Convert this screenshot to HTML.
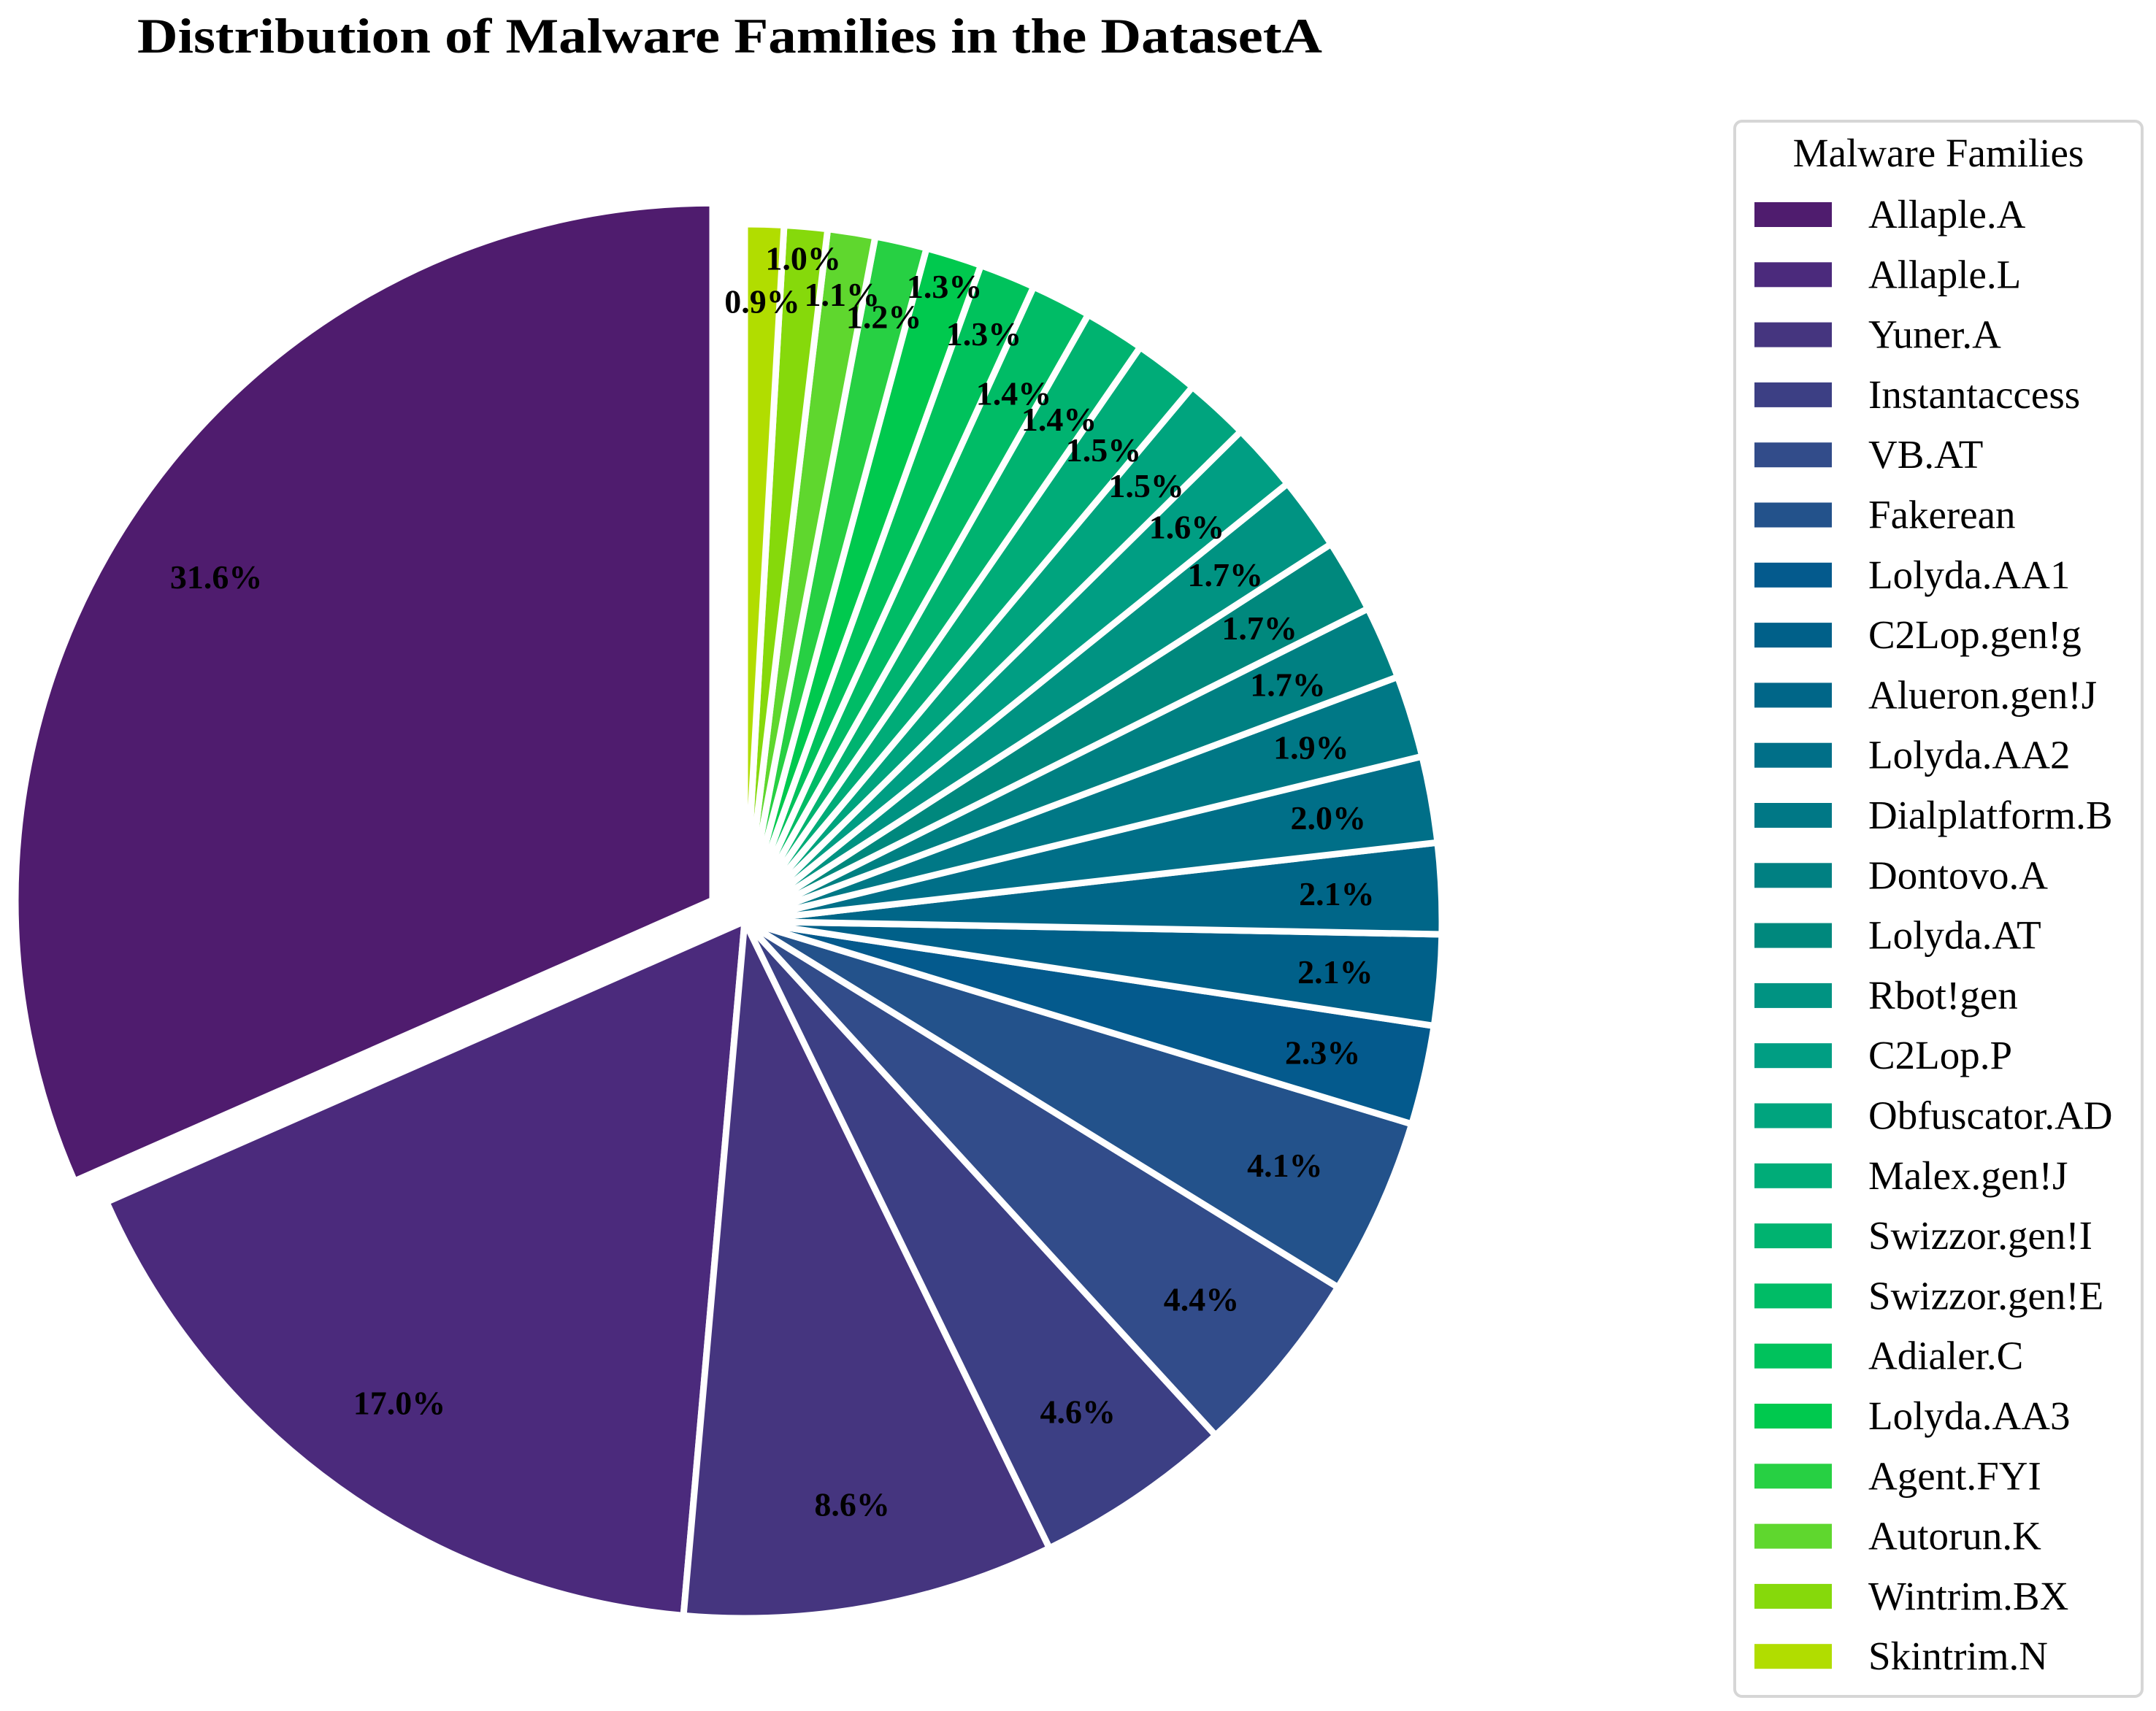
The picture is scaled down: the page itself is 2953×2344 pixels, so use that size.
<!DOCTYPE html>
<html><head><meta charset="utf-8"><style>
html,body{margin:0;padding:0;background:#fff;}
svg{display:block;font-family:"Liberation Serif",serif;}
</style></head><body>
<svg id="chart" width="2953" height="2344" viewBox="0 0 2953 2344" xmlns="http://www.w3.org/2000/svg">
<text x="188" y="72" font-size="68" font-weight="bold" font-family="Liberation Serif, serif" textLength="1623" lengthAdjust="spacingAndGlyphs">Distribution of Malware Families in the DatasetA</text>
<g id="slices"></g>
<g id="labels"></g>
<g id="legend">
<rect x="2376" y="166" width="558" height="2158" rx="10" fill="#fff" stroke="#d6d6d6" stroke-width="4"/>
<text x="2655" y="228" font-size="55" font-family="Liberation Serif, serif" text-anchor="middle">Malware Families</text>
</g>
</svg>
<script>
const categories = ["Allaple.A","Allaple.L","Yuner.A","Instantaccess","VB.AT","Fakerean","Lolyda.AA1","C2Lop.gen!g","Alueron.gen!J","Lolyda.AA2","Dialplatform.B","Dontovo.A","Lolyda.AT","Rbot!gen","C2Lop.P","Obfuscator.AD","Malex.gen!J","Swizzor.gen!I","Swizzor.gen!E","Adialer.C","Lolyda.AA3","Agent.FYI","Autorun.K","Wintrim.BX","Skintrim.N"];
const values = [31.6,17.0,8.6,4.6,4.4,4.1,2.3,2.1,2.1,2.0,1.9,1.7,1.7,1.7,1.6,1.5,1.5,1.4,1.4,1.3,1.3,1.2,1.1,1.0,0.9];
const colors = ["#4f1c6e","#4b2a7c","#45357f","#3c3f84","#324c8a","#23528b","#045a8d","#006089","#006688","#006f88","#007886","#008082","#00887d","#009382","#009e83","#00a47e","#00ac78","#00b370","#00bc66","#00c25c","#00c94e","#27d043","#5fd72e","#86d90b","#b1dd00"];

const NS = "http://www.w3.org/2000/svg";
const cx = 1020, cy = 1262, R = 955, explodeIdx = 0, explodeAmt = 0.055;
const total = values.reduce((a,b)=>a+b,0);
const sG = document.getElementById('slices');
const lG = document.getElementById('labels');
const pt = (x,y,r,a)=>[x + r*Math.cos(a), y - r*Math.sin(a)];
const smallDist = [0.89,0.955,0.91];
let ang = Math.PI/2;
values.forEach((v,i)=>{
  const sweep = v/total*2*Math.PI;
  const a0 = ang, a1 = ang + sweep, mid = (a0+a1)/2;
  let ox = cx, oy = cy;
  if (i === explodeIdx) { ox += explodeAmt*R*Math.cos(mid); oy -= explodeAmt*R*Math.sin(mid); }
  const p0 = pt(ox,oy,R,a0), p1 = pt(ox,oy,R,a1);
  const large = sweep > Math.PI ? 1 : 0;
  const path = document.createElementNS(NS,'path');
  path.setAttribute('d',`M${ox},${oy} L${p0[0]},${p0[1]} A${R},${R} 0 ${large} 0 ${p1[0]},${p1[1]} Z`);
  path.setAttribute('fill',colors[i]);
  path.setAttribute('stroke','#fff');
  path.setAttribute('stroke-width','9');
  path.setAttribute('stroke-linejoin','round');
  
  
  sG.appendChild(path);
  let d = 0.85;
  if (v < 1.35) d = smallDist[(values.length - 1 - i) % 3];
  const lp = pt(ox,oy,d*R,mid);
  const t = document.createElementNS(NS,'text');
  t.setAttribute('x',lp[0]); t.setAttribute('y',lp[1]+16);
  t.setAttribute('font-size','46'); t.setAttribute('font-weight','bold');
  t.setAttribute('font-family','Liberation Serif, serif');
  t.setAttribute('text-anchor','middle');
  
  
  t.textContent = v.toFixed(1) + '%';
  lG.appendChild(t);
  ang = a1;
});
const lg = document.getElementById('legend');
categories.forEach((c,i)=>{
  const y = 294 + i*82.3;
  const r = document.createElementNS(NS,'rect');
  r.setAttribute('x',2403); r.setAttribute('y',y-17); r.setAttribute('width',106); r.setAttribute('height',34);
  r.setAttribute('fill',colors[i]);
  
  
  lg.appendChild(r);
  const t = document.createElementNS(NS,'text');
  t.setAttribute('x',2559); t.setAttribute('y',y+18);
  t.setAttribute('font-size','55');
  t.setAttribute('font-family','Liberation Serif, serif');
  
  
  t.textContent = c;
  lg.appendChild(t);
});
</script>
</body></html>
